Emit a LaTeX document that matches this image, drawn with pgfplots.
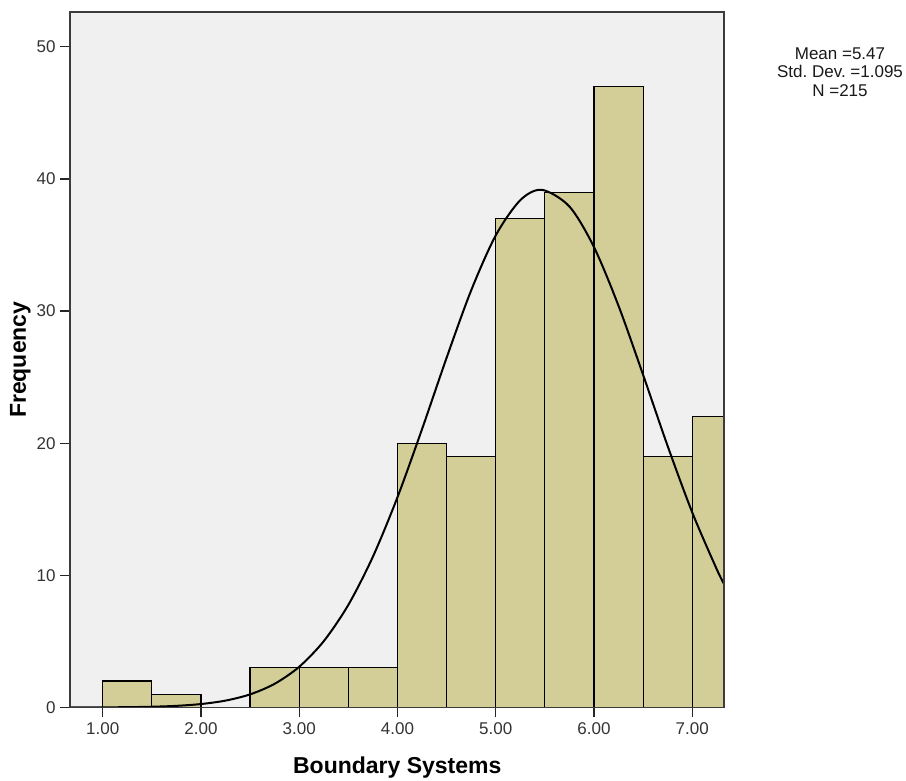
\documentclass[border=0pt]{standalone}
\usepackage{pgfplots}
\pgfplotsset{compat=1.18}
\usepackage{fontspec}
\setmainfont{Liberation Sans}
\definecolor{barfill}{RGB}{211,206,151}
\definecolor{plotbg}{RGB}{240,240,240}
\definecolor{frame}{RGB}{60,60,60}
\begin{document}
\frenchspacing
\begin{tikzpicture}
\path[use as bounding box] (-52.7pt,-55.1pt) rectangle (626.8pt,530.6pt);
\begin{axis}[
  scale only axis,
  width=490.5pt, height=521.6pt,
  xmin=0.67, xmax=7.326, ymin=0, ymax=52.63,
  axis on top,
  axis background/.style={fill=plotbg},
  axis line style={draw=frame, line width=1.4pt},
  xtick={1,2,3,4,5,6,7},
  ytick={0,10,20,30,40,50},
  xtick pos=bottom, ytick pos=left,
  tick align=outside,
  major tick length=7.5pt,
  tick style={draw=black!85, line width=1pt},
  xticklabel style={/pgf/number format/fixed, /pgf/number format/fixed zerofill, /pgf/number format/precision=2},
  /pgf/number format/assume math mode=true,
  ticklabel style={font=\fontsize{12.75}{15}\selectfont, text=black!80},
  xlabel={Boundary Systems},
  ylabel={Frequency},
  xlabel style={at={(axis description cs:0.5,-0.087)}, anchor=center, font=\fontsize{17.25}{20}\selectfont\bfseries},
  ylabel style={at={(axis description cs:-0.0765,0.5)}, anchor=center, rotate=0, font=\fontsize{17.25}{20}\selectfont\bfseries},
]
\addplot[ybar interval, fill=barfill, draw=black, line width=0.9pt] coordinates {
  (1.0,2) (1.5,1) (2.0,0) (2.5,3) (3.0,3) (3.5,3) (4.0,20) (4.5,19)
  (5.0,37) (5.5,39) (6.0,47) (6.5,19) (7.0,22) (7.5,22)
};
\addplot[smooth, black, line width=1.5pt] coordinates {
  (0.67,0.002) (1.0,0.009) (1.25,0.023) (1.5,0.055) (1.75,0.122) (2.0,0.259)
  (2.25,0.519) (2.5,0.990) (2.75,1.791) (3.0,3.077) (3.25,5.018) (3.5,7.763)
  (3.75,11.41) (4.0,15.91) (4.25,21.06) (4.5,26.46) (4.75,31.56) (5.0,35.72)
  (5.25,38.39) (5.47,39.17) (5.75,37.91) (6.0,34.84) (6.25,30.39) (6.5,25.17)
  (6.75,19.78) (7.0,14.76) (7.25,10.45) (7.33,9.26)
};
\end{axis}
\node[align=center, inner sep=0pt, font=\fontsize{12.75}{13.7}\selectfont, text=black!90] at (577.3pt,476.6pt) {Mean =5.47\\Std. Dev. =1.095\\N =215};
\end{tikzpicture}
\end{document}
